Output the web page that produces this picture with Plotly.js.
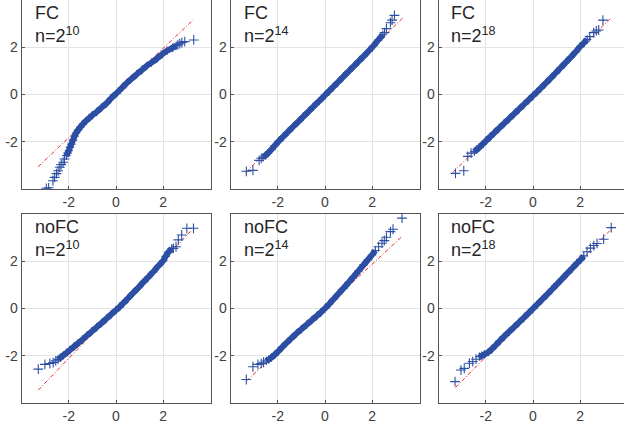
<!DOCTYPE html>
<html><head><meta charset="utf-8">
<script src="https://cdn.plot.ly/plotly-3.0.1.min.js"></script>
<style>html,body{margin:0;padding:0;background:#fff}#chart{width:624px;height:427px}</style>
</head><body><div id="chart"></div>
<script>
// ---- data (x = normal quantile, y = sample quantile) ----
const panelNames = ["FC", "FC", "FC", "noFC", "noFC", "noFC"];
const panelExps = ["10", "14", "18", "10", "14", "18"];
const tickVals = [-2, 0, 2];
const tickText = ["-2", "0", "2"];

// Panel 1: FC, n=2^10
const p1CoreX = [2.55, 2.40, 2.16, 1.95, 1.73, 1.50, 1.30, 1.10, 0.88, 0.65, 0.45, 0.25, 0.03, -0.20, -0.40, -0.62, -0.82, -1.00, -1.13, -1.27, -1.40, -1.51, -1.61, -1.69, -1.75, -1.82, -1.89, -1.95, -2.00, -2.05, -2.10];
const p1CoreY = [2.07, 1.98, 1.85, 1.70, 1.52, 1.35, 1.21, 1.04, 0.86, 0.66, 0.48, 0.28, 0.06, -0.15, -0.37, -0.56, -0.74, -0.88, -0.99, -1.12, -1.25, -1.38, -1.51, -1.63, -1.76, -1.93, -2.10, -2.24, -2.38, -2.48, -2.59];
const p1TailX = [3.29, 2.91, 2.79, 2.70, 2.62, -2.18, -2.24, -2.32, -2.38, -2.45, -2.52, -2.60, -2.67, -2.85, -2.95];
const p1TailY = [2.31, 2.24, 2.20, 2.15, 2.11, -2.73, -2.87, -2.97, -3.08, -3.23, -3.35, -3.51, -3.65, -3.95, -3.97];
const p1RefX = [-3.30, 3.26];
const p1RefY = [-3.06, 3.15];

// Panel 2: FC, n=2^14
const p2CoreX = [2.45, 2.25, 2.06, 1.85, 1.63, 1.42, 1.21, 1.00, 0.78, 0.56, 0.35, 0.17, 0.00, -0.25, -0.50, -0.70, -0.92, -1.13, -1.35, -1.56, -1.77, -1.95, -2.13, -2.27, -2.41, -2.52, -2.62];
const p2CoreY = [2.53, 2.30, 2.07, 1.84, 1.61, 1.40, 1.19, 0.98, 0.76, 0.53, 0.32, 0.14, -0.03, -0.28, -0.52, -0.72, -0.94, -1.15, -1.36, -1.57, -1.78, -1.97, -2.17, -2.33, -2.48, -2.58, -2.66];
const p2TailX = [2.94, 2.84, 2.77, 2.60, 2.52, -2.70, -2.79, -3.05, -3.33];
const p2TailY = [3.35, 3.15, 3.04, 2.79, 2.62, -2.70, -2.79, -3.21, -3.25];
const p2RefX = [-3.36, 3.30];
const p2RefY = [-3.30, 3.25];

// Panel 3: FC, n=2^18
const p3CoreX = [2.29, 2.15, 2.01, 1.80, 1.59, 1.38, 1.16, 0.95, 0.74, 0.53, 0.32, 0.16, 0.00, -0.19, -0.38, -0.59, -0.80, -1.01, -1.22, -1.43, -1.64, -1.82, -1.99, -2.13, -2.27, -2.38, -2.48];
const p3CoreY = [2.33, 2.18, 2.04, 1.80, 1.57, 1.35, 1.12, 0.90, 0.68, 0.47, 0.26, 0.10, -0.05, -0.24, -0.42, -0.62, -0.82, -1.02, -1.22, -1.42, -1.62, -1.80, -1.96, -2.10, -2.24, -2.33, -2.42];
const p3TailX = [2.40, 2.57, 2.68, 2.78, 2.96, -2.62, -2.76, -2.93, -3.28];
const p3TailY = [2.45, 2.62, 2.69, 2.73, 3.15, -2.48, -2.62, -3.23, -3.34];
const p3RefX = [-3.40, 3.27];
const p3RefY = [-3.30, 3.21];

// Panel 4: noFC, n=2^10
const p4CoreX = [2.36, 2.22, 2.10, 2.00, 1.78, 1.58, 1.37, 1.16, 0.95, 0.73, 0.52, 0.31, 0.15, 0.00, -0.20, -0.40, -0.61, -0.82, -1.03, -1.24, -1.42, -1.60, -1.78, -1.95, -2.09, -2.23, -2.35, -2.45];
const p4CoreY = [2.54, 2.38, 2.20, 2.02, 1.78, 1.55, 1.33, 1.11, 0.88, 0.66, 0.44, 0.22, 0.06, -0.07, -0.25, -0.43, -0.62, -0.80, -0.98, -1.16, -1.32, -1.47, -1.62, -1.76, -1.88, -1.99, -2.08, -2.16];
const p4TailX = [2.43, 2.54, 2.64, 2.78, 3.00, 3.28, -2.55, -2.66, -2.80, -3.01, -3.29];
const p4TailY = [2.54, 2.61, 2.90, 3.11, 3.39, 3.39, -2.22, -2.29, -2.33, -2.37, -2.57];
const p4RefX = [-3.29, 3.21];
const p4RefY = [-3.46, 3.32];

// Panel 5: noFC, n=2^14
const p5CoreX = [2.13, 1.99, 1.81, 1.63, 1.42, 1.21, 1.00, 0.78, 0.56, 0.35, 0.17, 0.00, -0.17, -0.35, -0.56, -0.78, -1.00, -1.21, -1.42, -1.63, -1.81, -1.99, -2.13, -2.27, -2.38, -2.48];
const p5CoreY = [2.45, 2.26, 2.05, 1.84, 1.59, 1.34, 1.10, 0.85, 0.61, 0.38, 0.18, 0.00, -0.16, -0.32, -0.50, -0.69, -0.88, -1.06, -1.26, -1.46, -1.64, -1.83, -1.96, -2.08, -2.16, -2.22];
const p5TailX = [2.27, 2.41, 2.51, 2.60, 2.77, 2.88, 3.26, -2.60, -2.70, -2.84, -3.05, -3.33];
const p5TailY = [2.61, 2.76, 2.87, 3.01, 3.25, 3.35, 3.82, -2.28, -2.33, -2.37, -2.47, -3.01];
const p5RefX = [-3.33, 3.22];
const p5RefY = [-3.07, 3.01];

// Panel 6: noFC, n=2^18
const p6CoreX = [2.15, 2.01, 1.87, 1.66, 1.45, 1.23, 1.02, 0.81, 0.60, 0.39, 0.18, 0.00, -0.19, -0.38, -0.59, -0.80, -1.01, -1.22, -1.40, -1.57, -1.75, -1.89, -2.06, -2.17, -2.27];
const p6CoreY = [2.22, 2.06, 1.92, 1.70, 1.48, 1.25, 1.03, 0.81, 0.59, 0.38, 0.17, -0.01, -0.20, -0.39, -0.59, -0.79, -0.99, -1.19, -1.37, -1.55, -1.73, -1.85, -1.95, -2.00, -2.04];
const p6TailX = [2.29, 2.43, 2.57, 2.71, 2.99, 3.31, -2.41, -2.55, -2.69, -2.91, -3.05, -3.30];
const p6TailY = [2.40, 2.55, 2.66, 2.75, 2.93, 3.42, -2.15, -2.25, -2.32, -2.54, -2.61, -3.10];
const p6RefX = [-3.28, 3.34];
const p6RefY = [-3.35, 3.38];

// ---- build ----
const panels = [
  [p1CoreX, p1CoreY, p1TailX, p1TailY, p1RefX, p1RefY],
  [p2CoreX, p2CoreY, p2TailX, p2TailY, p2RefX, p2RefY],
  [p3CoreX, p3CoreY, p3TailX, p3TailY, p3RefX, p3RefY],
  [p4CoreX, p4CoreY, p4TailX, p4TailY, p4RefX, p4RefY],
  [p5CoreX, p5CoreY, p5TailX, p5TailY, p5RefX, p5RefY],
  [p6CoreX, p6CoreY, p6TailX, p6TailY, p6RefX, p6RefY]
];

const W = 624, H = 427;
const colLeft = [21.5, 230.5, 438.5];
const panelW = 189;
const rowTop = [0, 213.9];
const panelH = 189;
const blue = 'rgb(44,78,163)';
const red = 'rgb(235,40,40)';
const font = '"Liberation Sans", Arial, Helvetica, sans-serif';

const data = [];
const layout = {
  width: W, height: H,
  margin: {l: 0, r: 0, t: 0, b: 0},
  paper_bgcolor: '#fff', plot_bgcolor: '#fff',
  showlegend: false,
  font: {family: font, color: '#404040'},
  annotations: []
};

panels.forEach((p, i) => {
  const n = i + 1;
  const xa = n === 1 ? 'x' : 'x' + n;
  const ya = n === 1 ? 'y' : 'y' + n;
  const col = i % 3, row = Math.floor(i / 3);
  const x0 = colLeft[col] / W;
  const x1 = Math.min(1, (colLeft[col] + panelW) / W);
  const xMax = -4 + 8 * (x1 * W - colLeft[col]) / panelW;
  const yTop = 1 - rowTop[row] / H;
  const yBot = 1 - (rowTop[row] + panelH) / H;

  data.push({x: p[4], y: p[5], xaxis: xa, yaxis: ya, type: 'scatter', mode: 'lines',
    line: {color: red, width: 1, dash: '4px,2px,1px,2px'}, hoverinfo: 'skip'});
  data.push({x: p[0], y: p[1], xaxis: xa, yaxis: ya, type: 'scatter', mode: 'lines+markers',
    line: {color: blue, width: 6, shape: 'spline', smoothing: 0.6}, cliponaxis: true,
    marker: {symbol: 'cross-thin-open', size: 6, color: blue, line: {color: blue, width: 1.2}}});
  data.push({x: p[2], y: p[3], xaxis: xa, yaxis: ya, type: 'scatter', mode: 'markers',
    cliponaxis: true,
    marker: {symbol: 'cross-thin-open', size: 7, color: blue, line: {color: blue, width: 1.1}}});

  const axCommon = {
    showgrid: true, gridcolor: '#e4e4e4', gridwidth: 1, zeroline: false,
    showline: true, linecolor: '#555', linewidth: 1,
    ticks: 'inside', ticklen: 3, tickcolor: '#555', tickwidth: 1,
    tickvals: tickVals, ticktext: tickText,
    tickfont: {family: font, size: 14, color: '#404040'}
  };
  layout[n === 1 ? 'xaxis' : 'xaxis' + n] = Object.assign({}, axCommon, {
    domain: [x0, x1], range: [-4, xMax], anchor: ya, mirror: true
  });
  layout[n === 1 ? 'yaxis' : 'yaxis' + n] = Object.assign({}, axCommon, {
    domain: [yBot, yTop], range: [-4, 4], anchor: xa, mirror: col < 2
  });
  layout.annotations.push({
    xref: xa + ' domain', yref: ya + ' domain', x: 0, y: 1,
    xanchor: 'left', yanchor: 'top', xshift: 11, yshift: -1,
    align: 'left', showarrow: false,
    text: panelNames[i] + '<br>n=2<sup>' + panelExps[i] + '</sup>',
    font: {family: font, size: 18, color: '#262626'}
  });
});

Plotly.newPlot('chart', data, layout, {staticPlot: true, displayModeBar: false});
</script></body></html>
